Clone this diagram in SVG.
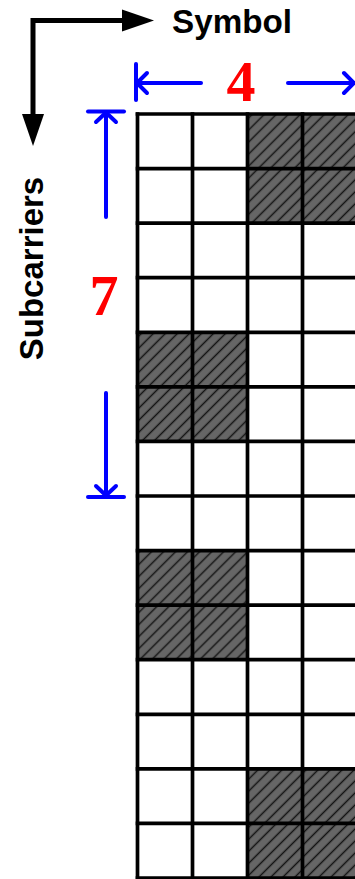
<svg xmlns="http://www.w3.org/2000/svg" width="355" height="879" viewBox="0 0 355 879">
<style>
.grid{stroke:#000;stroke-width:3.7;fill:none}
.hatch{fill:url(#hatch);stroke:none}
.axis{stroke:#000;stroke-width:5;fill:none}
.dim{stroke:#00f;stroke-width:4;fill:none;stroke-linecap:round;stroke-linejoin:round}
.lbl{font-family:"Liberation Sans",Arial,sans-serif;font-weight:bold;font-size:33px;fill:#000}
.num{font-family:"Liberation Serif","Times New Roman",serif;font-weight:bold;font-size:58px;fill:#f00}
</style>
<defs>
<pattern id="hatch" patternUnits="userSpaceOnUse" width="8.5" height="8.5" patternTransform="rotate(45)">
<rect width="8.5" height="8.5" fill="#666"/>
<line x1="4.25" y1="0" x2="4.25" y2="8.5" stroke="#151515" stroke-width="1.5"/>
</pattern>
</defs>
<rect width="355" height="879" fill="#fff"/>
<g id="hatched-cells">
<rect class="hatch" x="247.5" y="114" width="110" height="109.1"/>
<rect class="hatch" x="137.5" y="332.3" width="110" height="109.1"/>
<rect class="hatch" x="137.5" y="550.6" width="110" height="109.1"/>
<rect class="hatch" x="247.5" y="768.9" width="110" height="109.1"/>
</g>
<g id="grid" class="grid">
<line x1="137.5" y1="112.2" x2="137.5" y2="880"/>
<line x1="192.5" y1="112.2" x2="192.5" y2="880"/>
<line x1="247.5" y1="112.2" x2="247.5" y2="880"/>
<line x1="302.5" y1="112.2" x2="302.5" y2="880"/>
<line x1="135.7" y1="114" x2="360" y2="114"/>
<line x1="135.7" y1="168.6" x2="360" y2="168.6"/>
<line x1="135.7" y1="223.1" x2="360" y2="223.1"/>
<line x1="135.7" y1="277.7" x2="360" y2="277.7"/>
<line x1="135.7" y1="332.3" x2="360" y2="332.3"/>
<line x1="135.7" y1="386.9" x2="360" y2="386.9"/>
<line x1="135.7" y1="441.4" x2="360" y2="441.4"/>
<line x1="135.7" y1="496" x2="360" y2="496"/>
<line x1="135.7" y1="550.6" x2="360" y2="550.6"/>
<line x1="135.7" y1="605.1" x2="360" y2="605.1"/>
<line x1="135.7" y1="659.7" x2="360" y2="659.7"/>
<line x1="135.7" y1="714.3" x2="360" y2="714.3"/>
<line x1="135.7" y1="768.9" x2="360" y2="768.9"/>
<line x1="135.7" y1="823.4" x2="360" y2="823.4"/>
<line x1="135.7" y1="878" x2="360" y2="878"/>
</g>
<g id="axes">
<polyline class="axis" points="124,20.5 33,20.5 33,116"/>
<polygon points="122,9.5 154,20.5 122,31.5" fill="#000"/>
<polygon points="22,114 44,114 33,146" fill="#000"/>
<text class="lbl" x="232" y="33" text-anchor="middle" textLength="120" lengthAdjust="spacingAndGlyphs">Symbol</text>
<text class="lbl" x="0" y="0" text-anchor="middle" transform="translate(43,268.5) rotate(-90)">Subcarriers</text>
</g>
<g id="dim-symbols">
<line class="dim" x1="136" y1="64" x2="136" y2="100"/>
<line class="dim" x1="136" y1="83" x2="201" y2="83"/>
<polyline class="dim" points="147,73 137,83 147,93"/>
<line class="dim" x1="288" y1="83" x2="356" y2="83"/>
<polyline class="dim" points="344,73 354,83 344,93"/>
<text class="num" x="241" y="101" text-anchor="middle">4</text>
</g>
<g id="dim-subcarriers">
<line class="dim" x1="88" y1="111.5" x2="124" y2="111.5"/>
<line class="dim" x1="106" y1="112" x2="106" y2="217"/>
<polyline class="dim" points="96,122 106,112.5 116,122"/>
<line class="dim" x1="106" y1="393" x2="106" y2="496"/>
<polyline class="dim" points="96,486 106,495.5 116,486"/>
<line class="dim" x1="88" y1="497" x2="124" y2="497"/>
<text class="num" x="104" y="315" text-anchor="middle">7</text>
</g>
</svg>
